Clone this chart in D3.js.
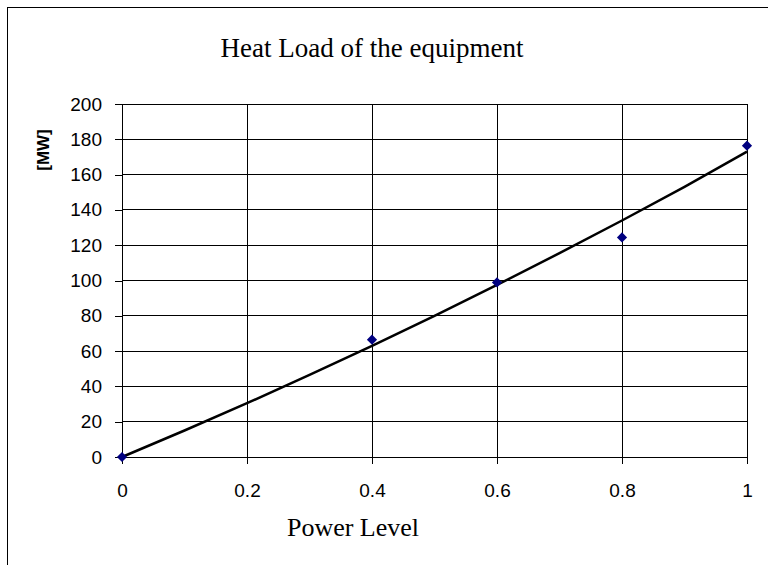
<!doctype html>
<html lang="en">
  <head>
    <meta charset="utf-8">
    <title>heat load</title>
    <style>
      body { margin: 0; background: #fff; }
      .tick text { font: 19px Arial, "Liberation Sans", sans-serif; fill: #000; }
      .axis path, .axis line { stroke: #000; shape-rendering: crispEdges; }
      .grid line { stroke: #000; shape-rendering: crispEdges; }
    </style>
  </head>
  <body>
    <div class="chart"></div>
  <script src="https://cdn.jsdelivr.net/npm/d3@7"></script>
  <script>
    // measured points
    const powerLevels = [0, 0.4, 0.6, 0.8, 1];
    const heatLoads = [0, 66.5, 98.9, 124.4, 176.4];

    // trend line
    const trendX = [0, 0.1, 0.2, 0.3, 0.4, 0.5, 0.6, 0.7, 0.8, 0.9, 1];
    const trendY = [0, 15, 30.5, 46.5, 63, 80, 97.5, 115.5, 134, 153, 173];

    const xTicks = [0, 0.2, 0.4, 0.6, 0.8, 1];
    const yTicks = [0, 20, 40, 60, 80, 100, 120, 140, 160, 180, 200];

    const W = 768, H = 565;
    const plotLeft = 122, plotRight = 747, plotTop = 104, plotBottom = 457;

    const x = d3.scaleLinear().domain([0, 1]).range([plotLeft, plotRight]);
    const y = d3.scaleLinear().domain([0, 200]).range([plotBottom, plotTop]);

    const svg = d3.select('.chart').append('svg')
        .attr('width', W)
        .attr('height', H);

    // outer frame
    svg.append('rect')
        .attr('x', 7.5).attr('y', 7.5)
        .attr('width', W).attr('height', H)
        .attr('fill', 'none')
        .attr('stroke', '#000');

    svg.append('text')
        .attr('x', 372).attr('y', 57)
        .attr('text-anchor', 'middle')
        .style('font', '27px "Liberation Serif", "Times New Roman", serif')
        .text('Heat Load of the equipment');

    // grid
    const grid = svg.append('g').attr('class', 'grid');
    grid.selectAll('.h').data(yTicks).enter().append('line')
        .attr('x1', plotLeft).attr('x2', plotRight)
        .attr('y1', d => y(d)).attr('y2', d => y(d));
    grid.selectAll('.v').data(xTicks).enter().append('line')
        .attr('x1', d => x(d)).attr('x2', d => x(d))
        .attr('y1', plotTop).attr('y2', plotBottom);

    svg.append('g')
        .attr('class', 'axis')
        .attr('transform', `translate(${plotLeft},0)`)
        .call(d3.axisLeft(y).tickValues(yTicks).tickSize(7).tickPadding(13).tickFormat(d3.format('d')))
        .call(g => g.select('.domain').remove());

    svg.append('g')
        .attr('class', 'axis')
        .attr('transform', `translate(0,${plotBottom})`)
        .call(d3.axisBottom(x).tickValues(xTicks).tickSize(7).tickPadding(20).tickFormat(d => d3.format('')(d)))
        .call(g => g.select('.domain').remove());

    // trend line
    const trend = trendX.map((d, i) => [d, trendY[i]]);
    svg.append('path')
        .datum(trend)
        .attr('fill', 'none')
        .attr('stroke', '#000')
        .attr('stroke-width', 2.5)
        .attr('d', d3.line().x(d => x(d[0])).y(d => y(d[1])));

    // markers
    const pts = powerLevels.map((d, i) => [d, heatLoads[i]]);
    svg.selectAll('.pt').data(pts).enter().append('path')
        .attr('class', 'pt')
        .attr('d', d3.symbol(d3.symbolSquare, 52))
        .attr('fill', '#000080')
        .attr('transform', d => `translate(${x(d[0])},${y(d[1])}) rotate(45)`);

    svg.append('text')
        .attr('transform', 'translate(49,150) rotate(-90)')
        .attr('text-anchor', 'middle')
        .style('font', 'bold 17px Arial, "Liberation Sans", sans-serif')
        .text('[MW]');

    svg.append('text')
        .attr('x', 353).attr('y', 536)
        .attr('text-anchor', 'middle')
        .style('font', '26px "Liberation Serif", "Times New Roman", serif')
        .text('Power Level');
  </script>
  </body>
</html>
